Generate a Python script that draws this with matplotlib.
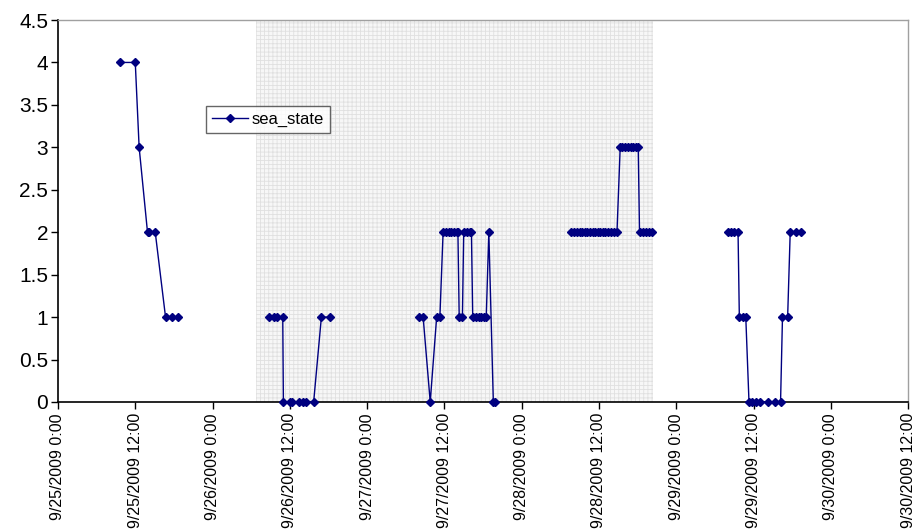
"""
sea_state vs tiempo (25-30 sep 2009), con la ventana sombreada del crucero.
"""

import numpy as np
import pandas as pd
import matplotlib
matplotlib.use("Agg")
import matplotlib.pyplot as plt

plt.rcParams["font.family"] = ["Liberation Sans", "DejaVu Sans"]
plt.rcParams["hatch.linewidth"] = 0.6

START = pd.Timestamp("2009-09-25 00:00")
END = pd.Timestamp("2009-09-30 12:00")

# horas desde 9/25/2009 0:00 -> sea_state, por tramos continuos
run1_hours = [9.6, 12.0, 12.6, 13.9, 14.1, 15.1, 16.7, 17.7, 18.6]
run1_state = [4, 4, 3, 2, 2, 2, 1, 1, 1]

run2_hours = [32.8, 33.5, 34.0, 34.9, 35.0, 36.0, 36.3, 37.4, 38.1, 38.5, 39.7, 40.9, 42.3]
run2_state = [1, 1, 1, 1, 0, 0, 0, 0, 0, 0, 0, 1, 1]

run3_hours = [56.0, 56.7, 57.8, 58.8, 59.3,
              59.8, 60.3, 60.7, 61.1, 61.5, 61.9, 62.1,
              62.3, 62.8,
              63.0, 63.5, 63.9, 64.2,
              64.4, 64.9, 65.3, 65.7, 66.1, 66.5,
              66.9, 67.6, 67.9]
run3_state = [1, 1, 0, 1, 1,
              2, 2, 2, 2, 2, 2, 2,
              1, 1,
              2, 2, 2, 2,
              1, 1, 1, 1, 1, 1,
              2, 0, 0]

run4_hours = [79.6, 80.1, 80.6, 81.0, 81.4, 81.8, 82.2, 82.6, 83.0, 83.4,
              83.8, 84.2, 84.6, 85.0, 85.4, 85.9, 86.4, 86.8,
              87.3, 87.6, 88.0, 88.5, 88.9, 89.3, 89.7, 90.1,
              90.3, 90.8, 91.3, 91.8, 92.3]
run4_state = [2, 2, 2, 2, 2, 2, 2, 2, 2, 2,
              2, 2, 2, 2, 2, 2, 2, 2,
              3, 3, 3, 3, 3, 3, 3, 3,
              2, 2, 2, 2, 2]

run5_hours = [104.1, 104.5, 105.0, 105.6, 105.8, 106.3, 106.8,
              107.3, 107.8, 108.4, 109.0, 110.2, 111.4, 112.2,
              112.5, 113.3, 113.7, 114.6, 115.4]
run5_state = [2, 2, 2, 2, 1, 1, 1,
              0, 0, 0, 0, 0, 0, 0,
              1, 1, 2, 2, 2]

runs = [
    (run1_hours, run1_state),
    (run2_hours, run2_state),
    (run3_hours, run3_state),
    (run4_hours, run4_state),
    (run5_hours, run5_state),
]

# ventana sombreada (horas)
shade_start, shade_end = 30.7, 92.4


def to_time(hours):
    return START + pd.to_timedelta(np.asarray(hours, dtype=float), unit="h")


fig = plt.figure(figsize=(9.19, 5.32), dpi=100)
ax = fig.add_axes([0.0631, 0.2444, 0.925, 0.718])

ax.axvspan(to_time([shade_start])[0], to_time([shade_end])[0],
           facecolor="#f7f7f7", edgecolor="#e0e0e0", hatch="++++",
           linewidth=0, zorder=0)

navy = "#000080"
for i, (h, s) in enumerate(runs):
    ax.plot(to_time(h), s, color=navy, lw=1.0, marker="D", ms=4.5,
            mfc=navy, mec=navy, label="sea_state" if i == 0 else None,
            zorder=3, clip_on=False)

ax.set_xlim(START, END)
ax.set_ylim(0, 4.5)
ax.set_yticks(np.arange(0, 4.51, 0.5))
ax.set_yticklabels(["0", "0.5", "1", "1.5", "2", "2.5", "3", "3.5", "4", "4.5"])

ticks = pd.date_range(START, END, freq="12h")
ax.set_xticks(ticks)
ax.set_xticklabels([f"{t.month}/{t.day}/{t.year} {t.hour}:{t.minute:02d}" for t in ticks],
                   rotation=90, va="top", ha="center")

ax.tick_params(axis="y", labelsize=15, length=5, width=1, direction="out", pad=2)
ax.tick_params(axis="x", labelsize=11.5, length=5, width=1, direction="out", pad=3)

for side in ["left", "bottom"]:
    ax.spines[side].set_color("black")
    ax.spines[side].set_linewidth(1.2)
for side in ["top", "right"]:
    ax.spines[side].set_color("#a0a0a0")
    ax.spines[side].set_linewidth(1.0)

leg = ax.legend(loc="upper left", bbox_to_anchor=(0.174, 0.775), fontsize=12,
                frameon=True, fancybox=False, handlelength=2.2, borderpad=0.35,
                handletextpad=0.2, borderaxespad=0, markerscale=0.8)
leg.get_frame().set_edgecolor("#404040")
leg.get_frame().set_linewidth(1.0)

fig.savefig("out.png", dpi=100)
